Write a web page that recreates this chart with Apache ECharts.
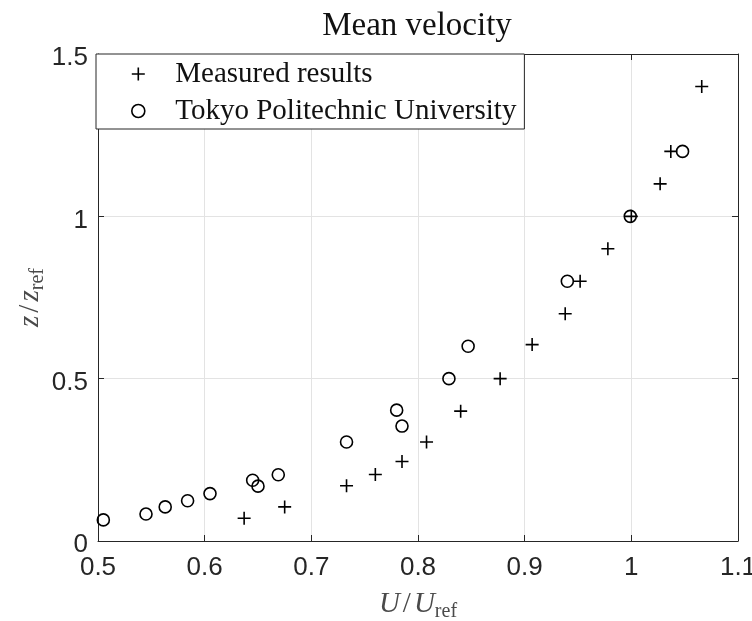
<!DOCTYPE html>
<html>
<head>
<meta charset="utf-8">
<script src="https://cdn.jsdelivr.net/npm/echarts@6/dist/echarts.min.js"></script>
<style>html,body{margin:0;padding:0;background:#fff}#c{width:752px;height:621px}</style>
</head>
<body>
<div id="c"></div>
<script>
// Data
var measuredU = [0.637, 0.675, 0.733, 0.760, 0.785, 0.808, 0.840, 0.877, 0.907, 0.938, 0.952, 0.978, 1.000, 1.027, 1.037, 1.066];
var measuredZ = [0.070, 0.105, 0.170, 0.205, 0.245, 0.305, 0.400, 0.500, 0.605, 0.700, 0.800, 0.900, 1.000, 1.100, 1.200, 1.400];
var tokyoU = [0.505, 0.545, 0.563, 0.584, 0.605, 0.645, 0.650, 0.669, 0.733, 0.780, 0.785, 0.829, 0.847, 0.940, 0.999, 1.048];
var tokyoZ = [0.065, 0.083, 0.105, 0.124, 0.146, 0.187, 0.169, 0.204, 0.305, 0.403, 0.354, 0.500, 0.600, 0.800, 1.000, 1.200];
var xTickLabels = ['0.5', '0.6', '0.7', '0.8', '0.9', '1', '1.1'];
var yTickLabels = ['0', '0.5', '1', '1.5'];
var seriesNames = ['Measured results', 'Tokyo Politechnic University'];
var titleText = 'Mean velocity';

function zip(a, b) { return a.map(function (v, i) { return [v, b[i]]; }); }

var plusPath = 'path://M6,0L6,12M0,6L12,6';
var ink = '#262626';
var serif = '"Liberation Serif", "Times New Roman", serif';
var sans = '"Liberation Sans", Arial, sans-serif';

var nameRich = {
  i: { fontFamily: serif, fontStyle: 'italic', fontSize: 29, lineHeight: 36, color: '#4a4a4a', verticalAlign: 'middle' },
  n: { fontFamily: serif, fontSize: 29, lineHeight: 36, color: '#4a4a4a', verticalAlign: 'middle', padding: [0, 3, 0, 3] },
  s: { fontFamily: serif, fontSize: 20, lineHeight: 36, color: '#4a4a4a', verticalAlign: 'bottom' }
};

var chart = echarts.init(document.getElementById('c'), null, { renderer: 'canvas' });

var baseAxis = {
  axisLine: { show: true, onZero: false, lineStyle: { color: ink, width: 1 } },
  axisTick: { show: true, inside: true, length: 6, lineStyle: { color: ink, width: 1 } },
  splitLine: { show: false }
};

chart.setOption({
  animation: false,
  backgroundColor: '#fff',
  graphic: [{
    type: 'text',
    x: 417, y: 26,
    style: { text: titleText, fontFamily: serif, fontSize: 33, fill: '#111', textAlign: 'center', textVerticalAlign: 'middle' }
  }],
  grid: { left: 98, right: 14, top: 54, bottom: 80, containLabel: false, outerBoundsMode: 'none' },
  legend: {
    orient: 'vertical',
    left: 96, top: 54,
    padding: [5, 8, 3, 35],
    itemWidth: 64, itemHeight: 13, itemGap: 7,
    backgroundColor: '#fff',
    borderColor: ink, borderWidth: 1,
    textStyle: { fontFamily: serif, fontSize: 29, lineHeight: 30, color: '#111' },
    data: [
      { name: seriesNames[0], icon: plusPath, itemStyle: { color: 'rgba(0,0,0,0)', borderColor: '#000', borderWidth: 1.6 } },
      { name: seriesNames[1], icon: 'circle', itemStyle: { color: 'rgba(0,0,0,0)', borderColor: '#000', borderWidth: 1.6 } }
    ]
  },
  xAxis: [
    Object.assign({}, baseAxis, {
      type: 'value', position: 'bottom', min: 0.5, max: 1.1, interval: 0.1,
      splitLine: { show: true, lineStyle: { color: '#e3e3e3', width: 1 } },
      axisLabel: { margin: 14, fontFamily: sans, fontSize: 26, color: ink,
        formatter: function (v) { return xTickLabels[Math.round((v - 0.5) / 0.1)]; } },
      name: '{i|U}{n|/}{i|U}{s|ref}', nameLocation: 'middle', nameGap: 45,
      nameTextStyle: { rich: nameRich }
    }),
    Object.assign({}, baseAxis, {
      type: 'value', position: 'top', min: 0.5, max: 1.1, interval: 0.1,
      axisLabel: { show: false }
    })
  ],
  yAxis: [
    Object.assign({}, baseAxis, {
      type: 'value', position: 'left', min: 0, max: 1.5, interval: 0.5,
      splitLine: { show: true, lineStyle: { color: '#e3e3e3', width: 1 } },
      axisLabel: { margin: 10, fontFamily: sans, fontSize: 26, color: ink, verticalAlign: 'top', lineHeight: 8,
        formatter: function (v) { return yTickLabels[Math.round(v / 0.5)]; } },
      name: '{i|z}{n|/}{i|z}{s|ref}', nameLocation: 'middle', nameGap: 50, nameMoveOverlap: false,
      nameTextStyle: { rich: nameRich }
    }),
    Object.assign({}, baseAxis, {
      type: 'value', position: 'right', min: 0, max: 1.5, interval: 0.5,
      axisLabel: { show: false }
    })
  ],
  series: [
    {
      name: seriesNames[0], type: 'scatter', xAxisIndex: 0, yAxisIndex: 0,
      symbol: plusPath, symbolSize: 13,
      itemStyle: { color: 'rgba(0,0,0,0)', borderColor: '#000', borderWidth: 1.6, opacity: 1 },
      emphasis: { disabled: true },
      data: zip(measuredU, measuredZ)
    },
    {
      name: seriesNames[1], type: 'scatter', xAxisIndex: 0, yAxisIndex: 0,
      symbol: 'circle', symbolSize: 12,
      itemStyle: { color: 'rgba(0,0,0,0)', borderColor: '#000', borderWidth: 1.6, opacity: 1 },
      emphasis: { disabled: true },
      data: zip(tokyoU, tokyoZ)
    }
  ]
});
</script>
</body>
</html>
